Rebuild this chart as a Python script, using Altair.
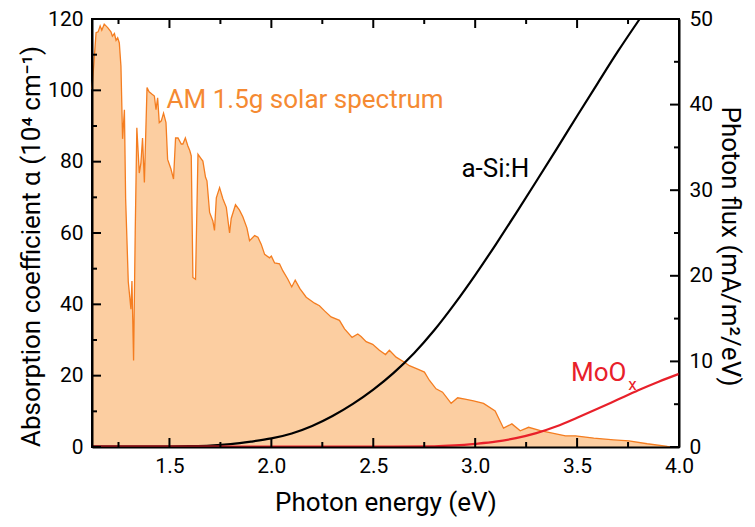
import altair as alt
import pandas as pd

# ---------------- data ----------------
E_SPEC = [1.120, 1.140, 1.150, 1.160, 1.168, 1.180, 1.197, 1.213, 1.220, 1.230, 1.238, 1.246, 1.254,
          1.262, 1.270, 1.279, 1.285, 1.298, 1.311, 1.316, 1.324, 1.332, 1.340, 1.352, 1.360, 1.368,
          1.377, 1.390, 1.400, 1.415, 1.426, 1.434, 1.442, 1.450, 1.460, 1.471, 1.483, 1.491, 1.507,
          1.520, 1.530, 1.542, 1.558, 1.566, 1.578, 1.590, 1.600, 1.607, 1.615, 1.628, 1.640, 1.655,
          1.664, 1.677, 1.684, 1.697, 1.713, 1.721, 1.730, 1.746, 1.762, 1.779, 1.795, 1.803, 1.824,
          1.843, 1.860, 1.880, 1.893, 1.918, 1.934, 1.950, 1.967, 1.991, 2.000, 2.016, 2.040, 2.056,
          2.081, 2.100, 2.117, 2.140, 2.171, 2.212, 2.236, 2.261, 2.293, 2.334, 2.359, 2.396, 2.424,
          2.440, 2.465, 2.497, 2.530, 2.560, 2.579, 2.612, 2.653, 2.677, 2.718, 2.751, 2.775, 2.808,
          2.840, 2.882, 2.914, 2.950, 2.992, 3.041, 3.098, 3.139, 3.180, 3.221, 3.262, 3.320, 3.443,
          3.492, 3.582, 3.680, 3.754, 3.844, 3.943, 4.000]
FLUX = [41.8, 48.4, 48.5, 49.2, 48.7, 49.4, 49.0, 48.5, 48.0, 48.3, 47.5, 47.8, 47.2,
        44.5, 36.0, 39.4, 29.0, 19.3, 16.1, 19.4, 10.1, 25.0, 37.3, 32.0, 33.2, 36.1,
        30.9, 42.0, 41.5, 41.2, 41.0, 39.4, 40.8, 37.9, 38.1, 39.0, 37.9, 33.6, 32.5,
        31.3, 36.1, 36.1, 35.4, 35.4, 36.1, 35.2, 34.6, 34.0, 19.8, 19.6, 34.2, 33.7,
        33.4, 31.5, 31.1, 27.4, 26.4, 25.3, 29.1, 30.3, 29.0, 28.0, 25.0, 26.7, 28.3,
        27.7, 26.9, 25.6, 24.1, 24.7, 24.5, 23.7, 22.5, 22.1, 22.3, 21.5, 21.4, 20.6,
        19.6, 18.7, 19.5, 18.5, 17.5, 16.8, 16.5, 15.9, 15.2, 14.8, 13.8, 12.8, 13.2,
        12.9, 12.3, 12.0, 11.3, 10.8, 11.3, 10.5, 9.9, 9.5, 9.1, 8.75, 7.8, 6.8,
        6.4, 5.1, 5.75, 5.6, 5.4, 5.1, 4.2, 2.2, 2.7, 1.9, 2.3, 1.9, 1.3,
        1.3, 1.04, 0.83, 0.71, 0.38, 0.08, 0.0]

E_ASI = [1.12, 1.3, 1.5, 1.6, 1.7, 1.8, 1.9, 2.0, 2.1, 2.2, 2.3, 2.4, 2.5, 2.6, 2.7, 2.8,
         2.9, 3.0, 3.1, 3.2, 3.3, 3.4, 3.5, 3.6, 3.7, 3.807]
ALPHA_ASI = [0.2, 0.2, 0.2, 0.25, 0.4, 0.8, 1.5, 2.4, 3.8, 5.9, 8.7, 12.1, 16.1, 20.8, 26.3, 32.8,
             40.2, 48.2, 56.7, 65.5, 74.5, 83.6, 92.8, 101.9, 110.9, 120.0]

E_MOOX = [1.12, 2.0, 2.6, 2.8, 2.9, 3.0, 3.1, 3.2, 3.3, 3.4, 3.5, 3.6, 3.7, 3.8, 3.9, 4.0]
ALPHA_MOOX = [0.1, 0.1, 0.1, 0.2, 0.45, 0.9, 1.5, 2.5, 3.9, 5.8, 8.2, 10.7, 13.3, 15.9, 18.3, 20.5]

X_MAJOR = [1.5, 2.0, 2.5, 3.0, 3.5, 4.0]
X_MINOR = [1.25, 1.75, 2.25, 2.75, 3.25, 3.75]
L_MAJOR = [0, 20, 40, 60, 80, 100, 120]
L_MINOR = [10, 30, 50, 70, 90, 110]
R_MAJOR = [0, 10, 20, 30, 40, 50]
R_MINOR = [5, 15, 25, 35, 45]

# ---------------- styling ----------------
W, H = 587, 428
FONT = "Roboto"
ORANGE_LINE = "#f47d20"
ORANGE_FILL = "#fccea1"
ORANGE_TEXT = "#f58a32"
RED = "#e8202a"
TITLE_SHIFT = 13  # axis titles sit a little below the middle in the reference

X = alt.X("E:Q",
          scale=alt.Scale(domain=[1.12, 4.0], nice=False, zero=False),
          axis=alt.Axis(values=X_MAJOR, format=".1f", title="Photon energy (eV)",
                        ticks=False, tickSize=0, labelPadding=8, titlePadding=13,
                        labelFlush=False, grid=False, domainColor="black", domainWidth=2,
                        zindex=1))
YL = alt.Y("a:Q",
           scale=alt.Scale(domain=[0, 120], nice=False),
           axis=alt.Axis(orient="left", values=L_MAJOR, title="Absorption coefficient α (10⁴ cm⁻¹)",
                         ticks=False, tickSize=0, labelPadding=9, titlePadding=3,
                         titleY=H / 2 + TITLE_SHIFT,
                         labelFlush=False, grid=False, domainColor="black", domainWidth=2,
                         zindex=1))
YR = alt.Y("f:Q",
           scale=alt.Scale(domain=[0, 50], nice=False),
           axis=alt.Axis(orient="right", values=R_MAJOR, title="Photon flux (mA/m²/eV)",
                         ticks=False, tickSize=0, labelPadding=10, titlePadding=4,
                         titleY=H / 2 + TITLE_SHIFT,
                         labelFlush=False, grid=False, domainColor="black", domainWidth=2,
                         zindex=1))

spec_df = pd.DataFrame({"E": E_SPEC, "f": FLUX})
asi_df = pd.DataFrame({"E": E_ASI, "a": ALPHA_ASI})
moox_df = pd.DataFrame({"E": E_MOOX, "a": ALPHA_MOOX})

area = alt.Chart(spec_df).mark_area(color=ORANGE_FILL, opacity=1).encode(x=X, y=YR)
spec_line = alt.Chart(spec_df).mark_line(color=ORANGE_LINE, strokeWidth=1.3).encode(x=X, y=YR)

asi_line = alt.Chart(asi_df).mark_line(color="black", strokeWidth=2.2,
                                       interpolate="monotone").encode(x=X, y=YL)
moox_line = alt.Chart(moox_df).mark_line(color=RED, strokeWidth=2.2,
                                         interpolate="monotone").encode(x=X, y=YL)


def xticks(vals, length, top):
    df = pd.DataFrame({"E": vals})
    if top:
        ys = dict(y=alt.value(0), y2=alt.value(length))
    else:
        ys = dict(y=alt.value(H), y2=alt.value(H - length))
    return alt.Chart(df).mark_rule(color="black", strokeWidth=2).encode(x=X, **ys)


def lticks(vals, length):
    df = pd.DataFrame({"a": vals})
    return alt.Chart(df).mark_rule(color="black", strokeWidth=2).encode(
        y=YL, x=alt.value(0), x2=alt.value(length))


def rticks(vals, length):
    df = pd.DataFrame({"f": vals})
    return alt.Chart(df).mark_rule(color="black", strokeWidth=2).encode(
        y=YR, x=alt.value(W), x2=alt.value(W - length))


am_text = alt.Chart(pd.DataFrame({"E": [1.486], "f": [39.6], "t": ["AM 1.5g solar spectrum"]})).mark_text(
    font=FONT, fontSize=26, color=ORANGE_TEXT, align="left", baseline="alphabetic"
).encode(x=X, y=YR, text="t:N")

asi_text = alt.Chart(pd.DataFrame({"E": [3.266], "a": [75.7], "t": ["a-Si:H"]})).mark_text(
    font=FONT, fontSize=26, color="black", align="right", baseline="alphabetic"
).encode(x=X, y=YL, text="t:N")

moo_text = alt.Chart(pd.DataFrame({"E": [3.742], "a": [18.6], "t": ["MoO"]})).mark_text(
    font=FONT, fontSize=26, color=RED, align="right", baseline="alphabetic"
).encode(x=X, y=YL, text="t:N")

sub_text = alt.Chart(pd.DataFrame({"E": [3.751], "a": [15.9], "t": ["x"]})).mark_text(
    font=FONT, fontSize=17, color=RED, align="left", baseline="alphabetic"
).encode(x=X, y=YL, text="t:N")

right_group = alt.layer(area, spec_line, rticks(R_MAJOR, 9), rticks(R_MINOR, 5), am_text)
left_group = alt.layer(
    asi_line, moox_line,
    lticks(L_MAJOR, 9), lticks(L_MINOR, 5),
    xticks(X_MAJOR, 9, False), xticks(X_MINOR, 5, False),
    xticks(X_MAJOR, 9, True), xticks(X_MINOR, 5, True),
    asi_text, moo_text, sub_text,
)

chart = alt.layer(right_group, left_group).resolve_scale(y="independent").properties(
    width=W, height=H,
    padding={"left": 84, "top": 11, "right": 68, "bottom": 72},
    autosize=alt.AutoSizeParams(type="none"),
).configure(background="white").configure_view(
    stroke="black", strokeWidth=2
).configure_axis(
    labelFont=FONT, titleFont=FONT, labelFontSize=21, titleFontSize=26,
    labelColor="black", titleColor="black", titleFontWeight="normal",
)

chart.save("out.html", embed_options={"renderer": "svg", "actions": False})
